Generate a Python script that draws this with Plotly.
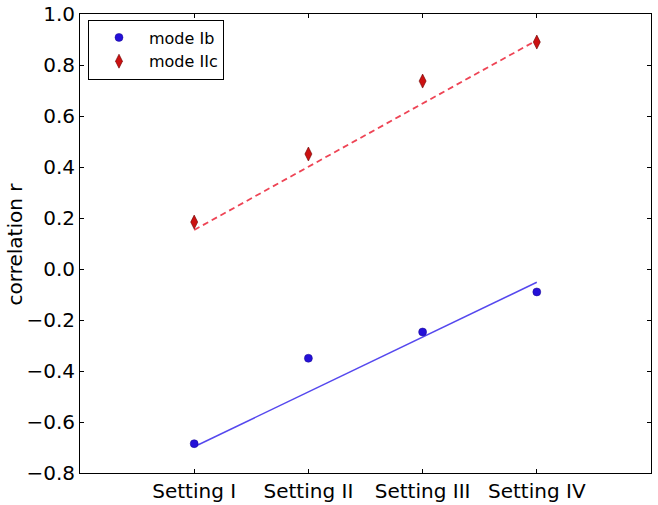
import plotly.graph_objects as go

# ---- data ----
settings = ["Setting I", "Setting II", "Setting III", "Setting IV"]
x_pos = [1, 2, 3, 4]
mode_Ib = [-0.685, -0.350, -0.247, -0.090]
mode_IIc = [0.184, 0.451, 0.737, 0.890]
fit_x = [1, 4]
fit_Ib = [-0.697, -0.052]
fit_IIc = [0.153, 0.897]
y_ticks = [-0.8, -0.6, -0.4, -0.2, 0.0, 0.2, 0.4, 0.6, 0.8, 1.0]
y_title = "correlation r"

FONT = "DejaVu Sans"

fig = go.Figure()

fig.add_trace(go.Scatter(
    x=fit_x, y=fit_IIc, mode="lines", showlegend=False, hoverinfo="skip",
    line=dict(color="#ee4455", width=1.8, dash="6px,4px"),
))
fig.add_trace(go.Scatter(
    x=fit_x, y=fit_Ib, mode="lines", showlegend=False, hoverinfo="skip",
    line=dict(color="#5548ee", width=1.5),
))
fig.add_trace(go.Scatter(
    x=x_pos, y=mode_Ib, mode="markers", name="mode Ib",
    marker=dict(symbol="circle", size=8, color="#2410d8",
                line=dict(color="#1a0a90", width=0.5)),
))
fig.add_trace(go.Scatter(
    x=x_pos, y=mode_IIc, mode="markers", name="mode IIc",
    marker=dict(symbol="diamond-tall", size=10, color="#cc1111",
                line=dict(color="#6a0000", width=0.6)),
))

fig.update_layout(
    width=658, height=505,
    margin=dict(l=80, r=7, t=14, b=32, autoexpand=False),
    paper_bgcolor="white", plot_bgcolor="white",
    font=dict(family=FONT, size=20, color="black"),
    legend=dict(
        x=0.014, y=0.988, xanchor="left", yanchor="top",
        bgcolor="white", bordercolor="black", borderwidth=1,
        font=dict(family=FONT, size=16, color="black"),
        tracegroupgap=0, itemsizing="trace", itemwidth=50,
    ),
    xaxis=dict(
        range=[0, 5], tickmode="array", tickvals=x_pos, ticktext=settings,
        showgrid=False, zeroline=False, automargin=False,
        showline=True, linecolor="black", linewidth=1, mirror="ticks",
        ticks="inside", ticklen=4, tickcolor="black",
        tickfont=dict(family=FONT, size=20, color="black"),
    ),
    yaxis=dict(
        range=[-0.8, 1.0], tickmode="array", tickvals=y_ticks,
        tickformat=".1f", automargin=False,
        showgrid=False, zeroline=False,
        showline=True, linecolor="black", linewidth=1, mirror="ticks",
        ticks="inside", ticklen=4, tickcolor="black",
        tickfont=dict(family=FONT, size=20, color="black"),
    ),
    annotations=[dict(
        text=y_title, textangle=-90, xref="paper", yref="paper",
        x=-0.114, y=0.5, xanchor="center", yanchor="middle", showarrow=False,
        font=dict(family=FONT, size=20, color="black"),
    )],
)

fig.write_html("out.html", config={"displayModeBar": False},
               post_script="document.body.style.margin='0';")
